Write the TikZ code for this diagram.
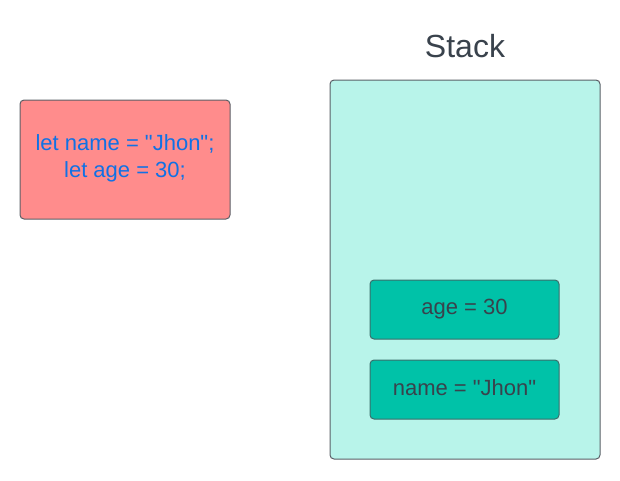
\documentclass[tikz,border=0pt]{standalone}
\usepackage{fontspec}
\setmainfont{Liberation Sans}[Ligatures=TeXOff]
\definecolor{redfill}{HTML}{FF8C8C}
\definecolor{codeblue}{HTML}{1071E5}
\definecolor{stackfill}{HTML}{B8F4EA}
\definecolor{cellfill}{HTML}{00C2A8}
\definecolor{darktext}{HTML}{39424C}
\definecolor{edgegray}{HTML}{5A5F66}
\definecolor{celledge}{HTML}{3B6F6B}
\tikzset{
  box/.style={rounded corners=3pt, line width=0.75pt, draw=edgegray},
  txt/.style={font=\fontsize{16.5}{20.25}\selectfont, align=center, inner sep=0pt}
}
\begin{document}
\begin{tikzpicture}[x=0.75pt,y=-0.75pt]
\useasboundingbox (0,0) rectangle (620,480);
% code box
\draw[box, fill=redfill] (20,100) rectangle (230,219);
\node[txt, text=codeblue] (code) at (125,158) {let name = "Jhon";\\let age = 30;};
% stack
\node[font=\fontsize{24}{28}\selectfont, text=darktext, inner sep=0pt] (title) at (465,46) {Stack};
\draw[box, fill=stackfill] (330,80) rectangle (600,459);
\draw[box, draw=celledge, fill=cellfill] (370,280) rectangle (559,339);
\node[txt, text=darktext] (age) at (464.5,309.5) {age = 30};
\draw[box, draw=celledge, fill=cellfill] (370,360) rectangle (559,419);
\node[txt, text=darktext] (name) at (464.5,387.5) {name = "Jhon"};
\end{tikzpicture}
\end{document}
